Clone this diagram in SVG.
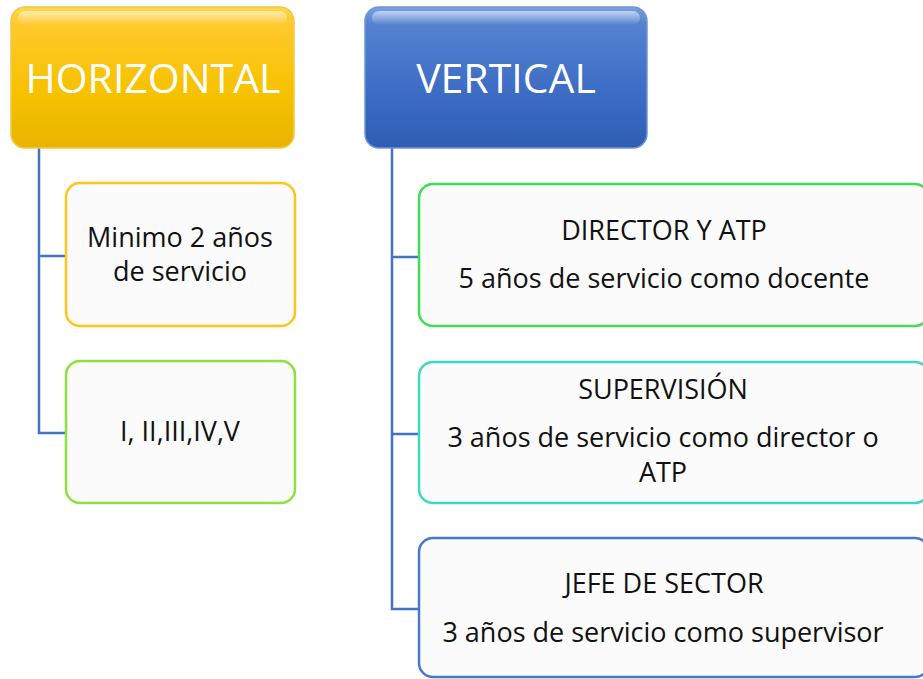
<svg xmlns="http://www.w3.org/2000/svg" width="923" height="679" viewBox="0 0 923 679">
<defs>
<linearGradient id="gy" x1="0" y1="0" x2="0" y2="1">
<stop offset="0" stop-color="#FFD84A"/><stop offset="0.12" stop-color="#FFC92E"/><stop offset="0.6" stop-color="#F6C200"/><stop offset="1" stop-color="#E8B400"/>
</linearGradient>
<linearGradient id="gb" x1="0" y1="0" x2="0" y2="1">
<stop offset="0" stop-color="#7AA0E0"/><stop offset="0.12" stop-color="#5582D0"/><stop offset="0.6" stop-color="#3C6CC4"/><stop offset="1" stop-color="#2F5DB4"/>
</linearGradient>
<linearGradient id="gloss" x1="0" y1="0" x2="0" y2="1">
<stop offset="0" stop-color="#FFFFFF" stop-opacity="0.55"/><stop offset="1" stop-color="#FFFFFF" stop-opacity="0"/>
</linearGradient>
<style>
.hdr{font-family:"Open Sans","Liberation Sans",sans-serif;font-size:41px;fill:#FFFFFF;text-anchor:middle}
.t{font-family:"Open Sans","Liberation Sans",sans-serif;font-size:27px;fill:#111111;text-anchor:middle}
.box{fill:#FBFBFB;stroke-width:2.5}
.con{fill:none;stroke:#4472C4;stroke-width:2.5}
</style>
</defs>
<g id="connectors">
<path class="con" d="M39 148 V433 H66 M39 256 H66"/>
<path class="con" d="M392 148 V609 H419 M392 257 H419 M392 434 H419"/>
</g>
<g id="horizontal">
<rect x="11" y="7" width="283" height="141" rx="14" fill="url(#gy)" stroke="#F5C845" stroke-width="1.5"/>
<rect x="18" y="11" width="269" height="14" rx="7" fill="url(#gloss)"/>
<text class="hdr" x="153" y="93">HORIZONTAL</text>
</g>
<g id="vertical">
<rect x="365" y="7" width="282" height="141" rx="14" fill="url(#gb)" stroke="#6F95D8" stroke-width="1.5"/>
<rect x="372" y="11" width="268" height="14" rx="7" fill="url(#gloss)"/>
<text class="hdr" x="506" y="93">VERTICAL</text>
</g>
<g id="minimo">
<rect class="box" x="66" y="183" width="229" height="143" rx="14" stroke="#FFC61A"/>
<text class="t" x="180" y="247">Minimo 2 años</text>
<text class="t" x="180" y="281">de servicio</text>
</g>
<g id="niveles">
<rect class="box" x="66" y="361" width="229" height="142" rx="14" stroke="#8EE040"/>
<text class="t" x="180" y="441">I, II,III,IV,V</text>
</g>
<g id="director">
<rect class="box" x="419" y="184" width="510" height="142" rx="14" stroke="#42DC56"/>
<text class="t" x="664" y="240">DIRECTOR Y ATP</text>
<text class="t" x="664" y="288">5 años de servicio como docente</text>
</g>
<g id="supervision">
<rect class="box" x="419" y="362" width="510" height="141" rx="14" stroke="#3FD6C4"/>
<text class="t" x="663" y="399">SUPERVISIÓN</text>
<text class="t" x="663" y="447">3 años de servicio como director o</text>
<text class="t" x="663" y="482">ATP</text>
</g>
<g id="jefe">
<rect class="box" x="419" y="538" width="510" height="139" rx="14" stroke="#4A78C8"/>
<text class="t" x="664" y="593">JEFE DE SECTOR</text>
<text class="t" x="663" y="642">3 años de servicio como supervisor</text>
</g>
</svg>
